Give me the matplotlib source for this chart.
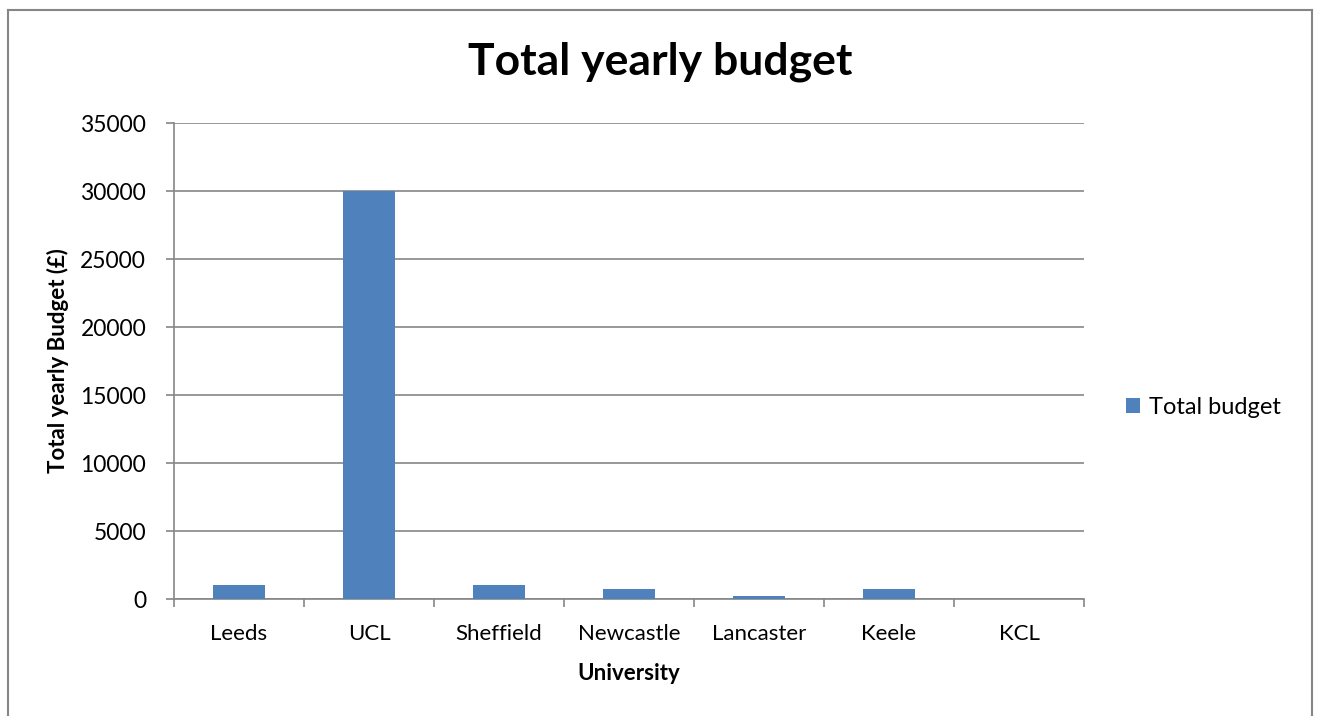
import matplotlib
matplotlib.use("Agg")
import matplotlib.pyplot as plt
from matplotlib.lines import Line2D

# data
universities = ["Leeds", "UCL", "Sheffield", "Newcastle", "Lancaster", "Keele", "KCL"]
budget = [1000, 30000, 1000, 700, 250, 700, 0]
yticks = [0, 5000, 10000, 15000, 20000, 25000, 30000, 35000]

plt.rcParams['font.family'] = ['Lato', 'DejaVu Sans']

W, H = 1317, 716
fig = plt.figure(figsize=(W / 100, H / 100), dpi=100)
ax = fig.add_axes([174 / W, 1 - 599 / H, (1084 - 174) / W, (599 - 123) / H])

grey = "#868686"
blue = "#4F81BD"

x = list(range(len(universities)))
ax.bar(x, budget, width=0.4, color=blue, label="Total budget", zorder=3)

ax.set_xlim(-0.5, len(universities) - 0.5)
ax.set_ylim(0, 35000)
ax.set_yticks(yticks)
ax.set_yticklabels([str(v) for v in yticks], fontsize=16.5)
ax.set_xticks(x)
ax.set_xticklabels(universities, fontsize=16)
ax.set_xticks([i - 0.5 for i in range(len(universities) + 1)], minor=True)
ax.tick_params(axis='x', which='major', length=0, pad=18)
ax.tick_params(axis='x', which='minor', length=6, color=grey, width=1.2, direction='out')
ax.tick_params(axis='y', length=6, color=grey, width=1.2, direction='out', pad=14)

ax.yaxis.grid(True, color=grey, linewidth=1.2, zorder=0)
ax.set_axisbelow(True)
for s in ['top', 'right']:
    ax.spines[s].set_visible(False)
for s in ['left', 'bottom']:
    ax.spines[s].set_color(grey)
    ax.spines[s].set_linewidth(1.2)

ax.set_xlabel("University", fontsize=16, fontweight='bold', labelpad=14)
ax.set_ylabel("Total yearly Budget (£)", fontsize=16, fontweight='bold', labelpad=8)
fig.text(660 / W, 1 - 62 / H, "Total yearly budget", fontsize=32, fontweight='bold',
         ha='center', va='center')

fig.legend(loc='center left', bbox_to_anchor=(1105 / W, 1 - 407 / H), frameon=False,
           fontsize=17, handlelength=0.6, handleheight=0.6, handletextpad=0.35)

# outer chart frame
fig.add_artist(Line2D([8 / W, 8 / W], [0, 1 - 10 / H], transform=fig.transFigure, color=grey, lw=1.5))
fig.add_artist(Line2D([8 / W, 1312 / W], [1 - 10 / H, 1 - 10 / H], transform=fig.transFigure, color=grey, lw=1.5))
fig.add_artist(Line2D([1312 / W, 1312 / W], [0, 1 - 10 / H], transform=fig.transFigure, color=grey, lw=1.5))

fig.savefig("out.png", dpi=100)
